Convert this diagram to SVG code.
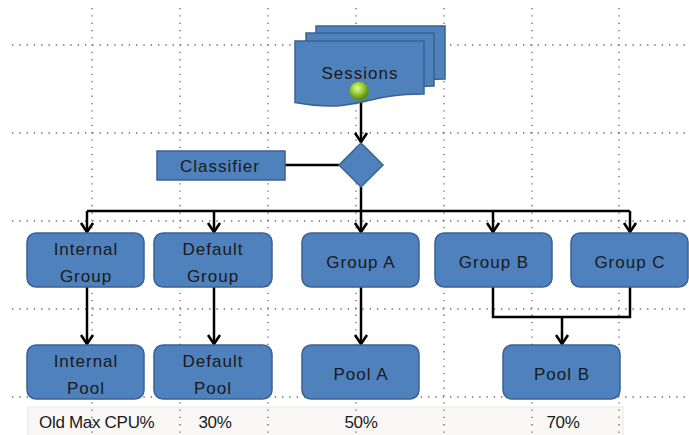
<svg xmlns="http://www.w3.org/2000/svg" width="689" height="435" viewBox="0 0 689 435">
<style>
.box{fill:#4f81bd;stroke:#3a6290;stroke-width:1.5}
.t{font-family:"Liberation Sans","Open Sans",sans-serif;font-size:17px;fill:#1a1a1a;text-anchor:middle;letter-spacing:1px}
.tt{font-family:"Liberation Sans","Open Sans",sans-serif;font-size:17px;fill:#1a1a1a;letter-spacing:-0.3px}
.grid{stroke:#666;stroke-width:1.3;stroke-dasharray:1.3 6;fill:none}
.c{stroke:#000;stroke-width:2.5;fill:none}
</style>
<defs>
<marker id="ah" markerUnits="userSpaceOnUse" markerWidth="16" markerHeight="16" viewBox="0 0 16 16" refX="14" refY="8" orient="auto">
<path d="M5,2 L14,8 L5,14" fill="none" stroke="#000" stroke-width="2.6"/>
</marker>
<radialGradient id="ball" cx="0.42" cy="0.35" r="0.65">
<stop offset="0" stop-color="#e4f9a0"/>
<stop offset="0.45" stop-color="#9ad23a"/>
<stop offset="1" stop-color="#4d7d12"/>
</radialGradient>
</defs>
<rect width="689" height="435" fill="#fff"/>
<g id="table">
<rect x="28" y="407" width="595" height="29" fill="#f9f8f6" stroke="#ebe8e3"/>
<text class="tt" x="39" y="428">Old Max CPU%</text>
<text class="tt" x="215" y="428" text-anchor="middle">30%</text>
<text class="tt" x="361" y="428" text-anchor="middle">50%</text>
<text class="tt" x="563" y="428" text-anchor="middle">70%</text>
</g>
<g id="grid" class="grid">
<path d="M92,8V435M180,8V435M268,8V435M356,8V435M444,8V435M532,8V435M619,8V435"/>
<path d="M12,45H689M12,133H689M12,221H689M12,309H689M12,397H689"/>
</g>
<g id="connectors" class="c">
<path d="M361,100V142" marker-end="url(#ah)"/>
<path d="M285,165H339"/>
<path d="M361,187V232" marker-end="url(#ah)"/>
<path d="M87,211H630"/>
<path d="M87,211V232" marker-end="url(#ah)"/>
<path d="M214,211V232" marker-end="url(#ah)"/>
<path d="M493,211V232" marker-end="url(#ah)"/>
<path d="M630,211V232" marker-end="url(#ah)"/>
<path d="M87,287V344" marker-end="url(#ah)"/>
<path d="M214,287V344" marker-end="url(#ah)"/>
<path d="M361,287V344" marker-end="url(#ah)"/>
<path d="M493,287V317H630V287"/>
<path d="M562,317V344" marker-end="url(#ah)"/>
</g>
<g id="sessions">
<path class="box" d="M316,26H445V79C380.5,79 380.5,99 316,87.6Z"/>
<path class="box" d="M306,33H434V86C370,86 370,106 306,94.6Z"/>
<path class="box" d="M295,41H424V94C359.5,94 359.5,114 295,102.6Z"/>
<text class="t" x="360" y="79">Sessions</text>
<circle cx="359" cy="91" r="9.5" fill="url(#ball)" stroke="#6a9a22" stroke-width="0.8"/>
</g>
<g id="classifier">
<rect class="box" x="157" y="151" width="128" height="29"/>
<text class="t" x="220" y="172">Classifier</text>
</g>
<g id="decision">
<path class="box" d="M361,143L383,165L361,187L339,165Z"/>
</g>
<g id="internal-group">
<rect class="box" x="27" y="233" width="117" height="54" rx="9"/>
<text class="t" x="86" y="255">Internal</text>
<text class="t" x="86" y="282">Group</text>
</g>
<g id="default-group">
<rect class="box" x="154" y="233" width="118" height="54" rx="9"/>
<text class="t" x="213" y="255">Default</text>
<text class="t" x="213" y="282">Group</text>
</g>
<g id="group-a">
<rect class="box" x="302" y="233" width="117" height="54" rx="9"/>
<text class="t" x="361" y="268">Group A</text>
</g>
<g id="group-b">
<rect class="box" x="435" y="233" width="117" height="54" rx="9"/>
<text class="t" x="494" y="268">Group B</text>
</g>
<g id="group-c">
<rect class="box" x="571" y="233" width="117" height="54" rx="9"/>
<text class="t" x="630" y="268">Group C</text>
</g>
<g id="internal-pool">
<rect class="box" x="27" y="345" width="117" height="54" rx="9"/>
<text class="t" x="86" y="367">Internal</text>
<text class="t" x="86" y="394">Pool</text>
</g>
<g id="default-pool">
<rect class="box" x="154" y="345" width="118" height="54" rx="9"/>
<text class="t" x="213" y="367">Default</text>
<text class="t" x="213" y="394">Pool</text>
</g>
<g id="pool-a">
<rect class="box" x="302" y="345" width="117" height="54" rx="9"/>
<text class="t" x="361" y="380">Pool A</text>
</g>
<g id="pool-b">
<rect class="box" x="503" y="345" width="117" height="54" rx="9"/>
<text class="t" x="562" y="380">Pool B</text>
</g>
</svg>
